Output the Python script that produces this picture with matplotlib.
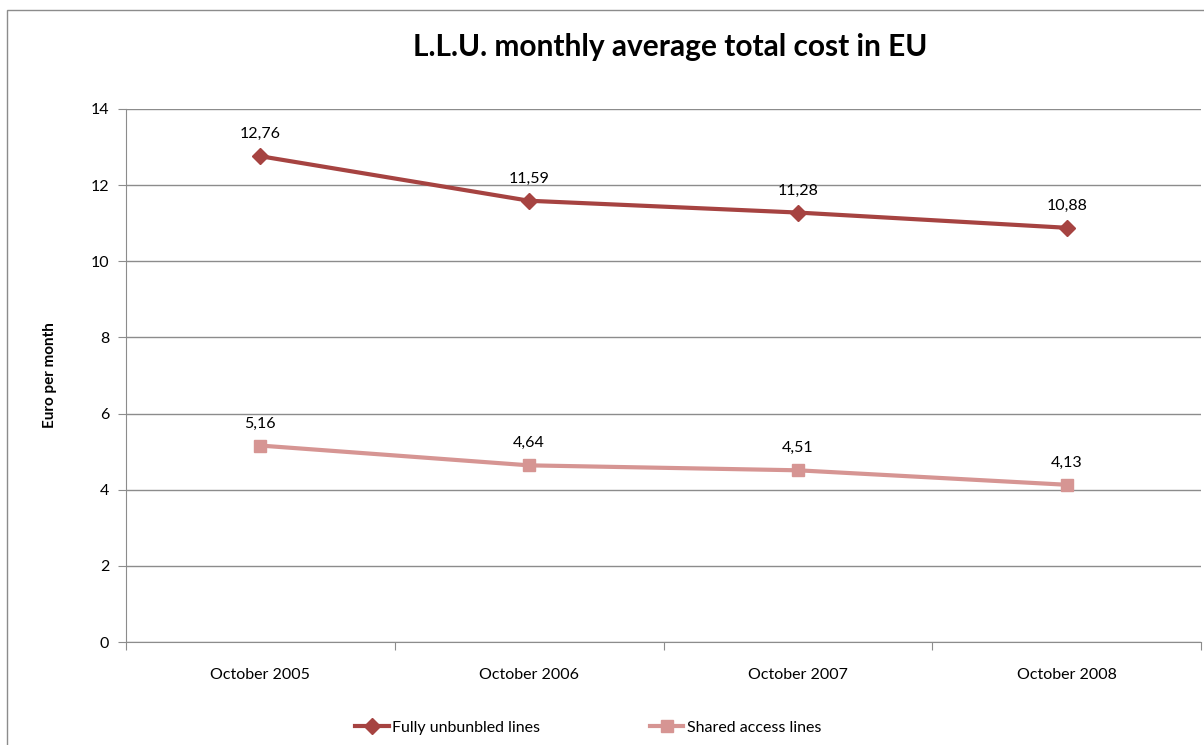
import matplotlib
matplotlib.use('Agg')
import matplotlib.pyplot as plt
from matplotlib.patches import Rectangle

plt.rcParams['font.family'] = ['Lato', 'DejaVu Sans']

categories = ['October 2005', 'October 2006', 'October 2007', 'October 2008']
fully_unbundled = [12.76, 11.59, 11.28, 10.88]
shared_access = [5.16, 4.64, 4.51, 4.13]

DARK = '#A64341'
LIGHT = '#D69593'
GRID = '#8C8C8C'

fig = plt.figure(figsize=(12.04, 7.45), dpi=100)
fig.patch.set_facecolor('white')
ax = fig.add_axes([126 / 1204, 103 / 745, 1075 / 1204, 533 / 745])

# outer chart border
fig.patches.append(Rectangle((7 / 1204, -0.1), 1.2, 1 - 10 / 745 + 0.1,
                             transform=fig.transFigure, fill=False,
                             edgecolor='#8C8C8C', linewidth=1))

xs = [i + 0.5 for i in range(len(categories))]
ax.plot(xs, fully_unbundled, color=DARK, linewidth=3, marker='D', markersize=8,
        label='Fully unbunbled lines', zorder=3)
ax.plot(xs, shared_access, color=LIGHT, linewidth=3, marker='s', markersize=9,
        label='Shared access lines', zorder=3)

for x, v in zip(xs, fully_unbundled):
    ax.annotate(f'{v:.2f}'.replace('.', ','), (x, v), xytext=(0, 13),
                textcoords='offset points', ha='center', fontsize=11.5)
for x, v in zip(xs, shared_access):
    ax.annotate(f'{v:.2f}'.replace('.', ','), (x, v), xytext=(0, 13),
                textcoords='offset points', ha='center', fontsize=11.5)

ax.set_xlim(0, 4)
ax.set_ylim(0, 14)
ax.set_yticks(range(0, 15, 2))
ax.set_xticks(range(0, 5))
ax.set_xticklabels([])
ax.set_xticks(xs, minor=True)
ax.set_xticklabels(categories, minor=True, fontsize=11.5)
ax.tick_params(axis='x', which='minor', length=0, pad=19)
ax.tick_params(axis='x', which='major', length=6, color=GRID)
ax.tick_params(axis='y', length=6, color=GRID, labelsize=11.5, pad=6)

ax.grid(axis='y', color=GRID, linewidth=1)
ax.set_axisbelow(True)
for s in ['top', 'right']:
    ax.spines[s].set_visible(False)
ax.spines['left'].set_color(GRID)
ax.spines['bottom'].set_color(GRID)

ax.set_ylabel('Euro per month', fontsize=11, fontweight='bold', labelpad=24)
fig.suptitle('L.L.U. monthly average total cost in EU', fontsize=21.5,
             fontweight='bold', x=670 / 1204, y=1 - 33 / 745, va='top')

fig.legend(loc='center', bbox_to_anchor=(588 / 1204, 1 - 728 / 745), ncol=2,
           frameon=False, fontsize=11.5, columnspacing=6.9, handlelength=2.1,
           handletextpad=0.2)

fig.savefig('out.png', dpi=100)
